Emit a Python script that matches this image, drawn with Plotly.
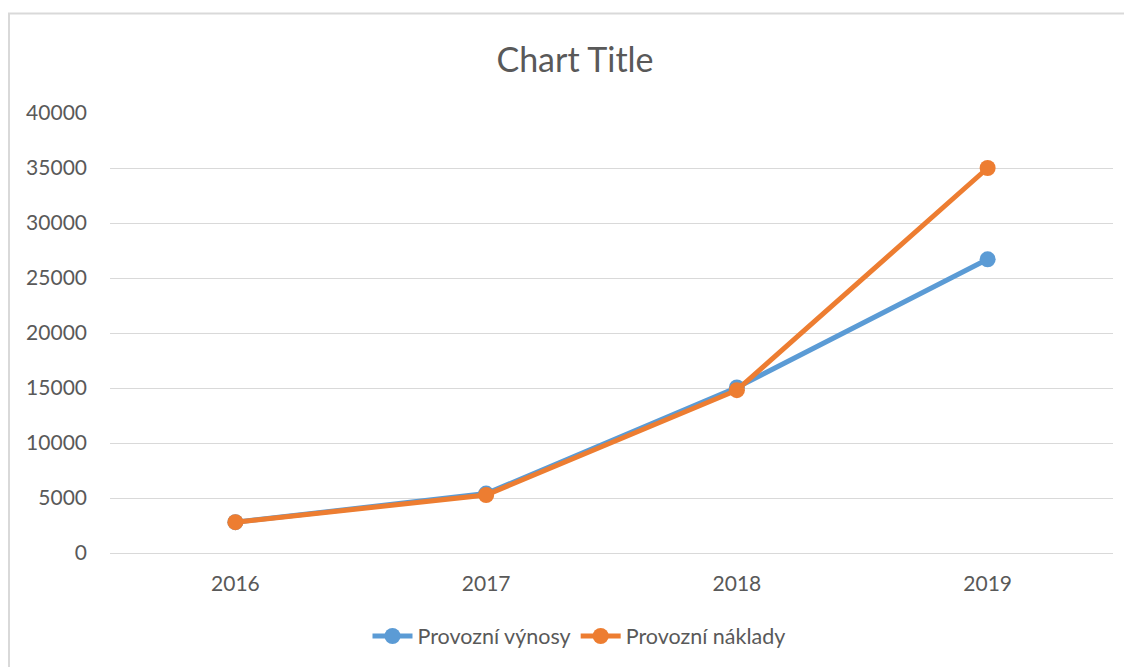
import plotly.graph_objects as go

years = ["2016", "2017", "2018", "2019"]
vynosy = [2800, 5400, 15050, 26700]
naklady = [2800, 5270, 14800, 35000]
y_ticks = [0, 5000, 10000, 15000, 20000, 25000, 30000, 35000, 40000]

BLUE = "#5B9BD5"
ORANGE = "#ED7D31"
TXT = "#595959"
FONT = "Lato, Open Sans, sans-serif"

# page offset of 8px (body margin) taken into account
L, R, T, B = 102, 1105, 105, 545
W, H = 1132, 667

fig = go.Figure()
fig.add_trace(go.Scatter(x=years, y=vynosy, name="Provozní výnosy", mode="lines+markers",
                         line=dict(color=BLUE, width=5), marker=dict(size=16, color=BLUE)))
fig.add_trace(go.Scatter(x=years, y=naklady, name="Provozní náklady", mode="lines+markers",
                         line=dict(color=ORANGE, width=5), marker=dict(size=16, color=ORANGE)))

pw, ph = R - L, B - T
fig.update_layout(
    width=W, height=H,
    margin=dict(l=L, r=W - R, t=T, b=H - B),
    paper_bgcolor="white", plot_bgcolor="white",
    font=dict(family=FONT, color=TXT, size=21),
    title=dict(text="Chart Title", x=(575 - 8) / W, xanchor="center", y=1 - (60 - 8) / H, yanchor="middle",
               font=dict(size=34, color=TXT, family=FONT)),
    showlegend=True,
    legend=dict(orientation="h", x=(579 - 8 - L) / pw, xanchor="center", y=(B - (636 - 8)) / ph,
                yanchor="middle", font=dict(size=21.5, color=TXT), itemwidth=40),
    xaxis=dict(type="category", range=[-0.5, 3.5], showgrid=False, showline=True,
               linecolor="#D9D9D9", linewidth=1, ticks="", ticklabelstandoff=12,
               tickfont=dict(size=21, color=TXT), zeroline=False),
    yaxis=dict(range=[0, 40000], tickvals=y_ticks, ticktext=[str(v) for v in y_ticks],
               showgrid=True, gridcolor="#D9D9D9", gridwidth=1, showline=False, zeroline=False,
               ticks="", ticklabelstandoff=22, tickfont=dict(size=21, color=TXT)),
    shapes=[dict(type="rect", xref="paper", yref="paper",
                 x0=(1 - L) / pw, x1=(1131 - L) / pw,
                 y0=(B - 680) / ph, y1=(B - 5.5) / ph,
                 line=dict(color="#D9D9D9", width=2), layer="below")],
)

fig.write_html("out.html")
